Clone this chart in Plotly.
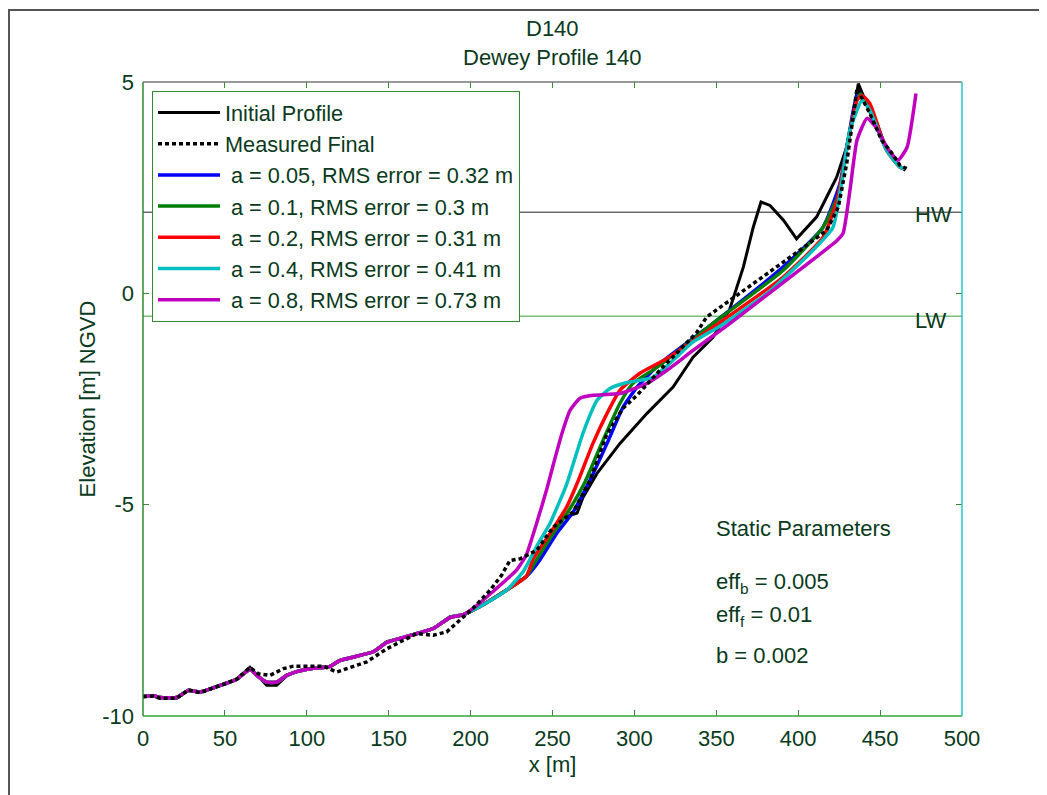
import plotly.graph_objects as go

# ---------------- data ----------------
offshore_x = [0, 6.3, 10.4, 20.6, 27.7, 34.8, 49, 57.2, 65.3, 70.4, 75.5, 81.6, 87.7, 93.8,
              104, 114, 120, 140.6, 148.8, 161, 169, 177.2, 187.4, 195.6, 205.7, 222, 234]
offshore_y = [-9.54, -9.53, -9.58, -9.58, -9.38, -9.45, -9.25, -9.13, -8.85, -9.07, -9.27, -9.27,
              -9.05, -8.95, -8.87, -8.83, -8.69, -8.48, -8.24, -8.12, -8.03, -7.93, -7.65, -7.61,
              -7.41, -7.02, -6.70]
# computed profiles offshore (slightly smoother than the surveyed one)
model_offshore_y = [-9.54, -9.52, -9.56, -9.56, -9.40, -9.43, -9.25, -9.13, -8.90, -9.07, -9.20,
                    -9.20, -9.04, -8.95, -8.87, -8.83, -8.69, -8.48, -8.26, -8.12, -8.03, -7.93,
                    -7.67, -7.60, -7.41, -7.02, -6.70]

initial_x = offshore_x + [248.5, 254.6, 258.7, 265, 268.6, 277.2, 291.2, 307.7, 323.6, 335.8, 348,
                          358, 366.5, 372.6, 377.3, 382.8, 391, 399, 411.3, 417.4, 423.5, 429.6,
                          433.6, 436.7, 445.9, 454, 462.1, 465.5]
initial_y = offshore_y + [-5.84, -5.30, -5.28, -5.20, -4.83, -4.26, -3.55, -2.84, -2.22, -1.51, -1.04,
                          -0.40, 0.62, 1.57, 2.16, 2.08, 1.73, 1.29, 1.81, 2.28, 2.75, 3.46,
                          4.25, 4.96, 4.09, 3.38, 2.99, 2.91]

final_x = [0, 6.3, 10.4, 20.6, 27.7, 34.8, 49, 57.2, 65.3, 70.4, 77.5, 85.7, 91.8, 110, 118.2,
           136.6, 148.8, 167.1, 177.2, 185.4, 201.5, 211.8, 218.9, 224, 230.2, 240.4, 250.5,
           262.7, 273, 283, 293, 301.6, 316.8, 338.2, 344.1, 364.5, 401, 417.4, 424.5, 429.6,
           435.9, 443.8, 451, 456, 462.1, 466.2]
final_y = [-9.54, -9.53, -9.58, -9.58, -9.38, -9.45, -9.25, -9.13, -8.85, -9.0, -9.04, -8.88,
           -8.82, -8.82, -8.96, -8.72, -8.41, -8.05, -8.09, -8.01, -7.45, -7.03, -6.67, -6.32,
           -6.28, -6.08, -5.53, -5.17, -4.42, -3.35, -2.72, -2.41, -1.77, -0.92, -0.56, 0.0,
           1.02, 1.49, 2.04, 3.07, 4.85, 4.25, 3.62, 3.38, 3.03, 2.95]

blue_x = offshore_x + [242.4, 252.5, 262.7, 272.9, 283.3, 293, 301.6, 315.6, 348, 390.7, 415.1,
                       425.5, 430.4, 436.5, 445.9, 454, 462, 465]
blue_y = model_offshore_y + [-6.30, -5.68, -5.17, -4.42, -3.55, -2.70, -2.22, -1.66, -0.71, 0.62,
                             1.56, 2.60, 3.62, 4.73, 4.20, 3.40, 3.00, 2.95]

green_x = offshore_x + [240.3, 250.5, 260.7, 270, 280.8, 291.2, 299.1, 313.8, 348, 390.7, 415.1,
                        425.5, 430.4, 437.7, 445.9, 454, 462, 465]
green_y = model_offshore_y + [-6.30, -5.68, -5.09, -4.45, -3.48, -2.60, -2.13, -1.75, -0.71, 0.54,
                              1.56, 2.44, 3.62, 4.73, 4.22, 3.40, 3.00, 2.95]

red_x = offshore_x + [238.3, 248.5, 258.7, 265, 274.7, 283.3, 291.2, 303.4, 319.9, 348, 390.7,
                      415.1, 423.7, 429.8, 435.9, 439, 443.8, 454, 462, 465]
red_y = model_offshore_y + [-6.27, -5.68, -5.05, -4.50, -3.55, -2.84, -2.29, -1.89, -1.54, -0.80,
                            0.38, 1.32, 2.20, 3.45, 4.57, 4.68, 4.49, 3.38, 2.99, 2.95]

cyan_x = offshore_x[:-1] + [232, 240.3, 248.5, 258.8, 268.6, 277.2, 285.1, 295.5, 311.4, 335.8,
                            350.4, 360.2, 381, 407.2, 421.2, 426.7, 431.6, 439, 443.8, 454, 462, 465]
cyan_y = model_offshore_y[:-1] + [-6.59, -5.99, -5.44, -4.50, -3.31, -2.53, -2.25, -2.11, -1.99,
                                  -1.15, -0.82, -0.57, 0.0, 0.95, 1.56, 2.67, 3.86, 4.57, 4.33,
                                  3.38, 2.99, 2.95]

magenta_x = [0, 6.3, 10.4, 20.6, 27.7, 34.8, 49, 57.2, 65.3, 70.4, 75.5, 81.6, 87.7, 93.8, 104,
             114, 120, 140.6, 148.8, 161, 169, 177.2, 187.4, 195.6, 201.7, 228, 234, 240.3,
             246.4, 250.5, 255.8, 260.7, 266.8, 274.7, 291.2, 307.7, 319.9, 335.8, 358.4, 384.6,
             423.7, 427.4, 431.6, 435.9, 442, 448.1, 454.2, 460.9, 466.4, 471.9]
magenta_y = [-9.54, -9.52, -9.56, -9.56, -9.40, -9.43, -9.25, -9.13, -8.90, -9.07, -9.20, -9.20,
             -9.04, -8.95, -8.87, -8.83, -8.69, -8.48, -8.26, -8.12, -8.03, -7.93, -7.67, -7.60,
             -7.45, -6.55, -6.19, -5.44, -4.65, -4.05, -3.31, -2.77, -2.48, -2.41, -2.37, -2.13,
             -1.82, -1.35, -0.71, 0.07, 1.25, 1.42, 2.44, 3.62, 4.14, 3.90, 3.45, 3.15, 3.45, 4.73]

legend_names = ["Initial Profile", "Measured Final",
                "\u00a0a = 0.05, RMS error = 0.32 m",
                "\u00a0a = 0.1, RMS error = 0.3 m",
                "\u00a0a = 0.2, RMS error = 0.31 m",
                "\u00a0a = 0.4, RMS error = 0.41 m",
                "\u00a0a = 0.8, RMS error = 0.73 m"]

hw_level = 1.92
lw_level = -0.54
x_range = [0, 500]
y_range = [-10, 5]
x_ticks = [0, 50, 100, 150, 200, 250, 300, 350, 400, 450, 500]
y_ticks = [-10, -5, 0, 5]
y_ticktext = ["-10", "-5", "0", "5"]

# ---------------- figure ----------------
TXT = "#0a3a20"
FONT = "Liberation Sans, Arial, sans-serif"
FS = 22
fig = go.Figure()

# water level lines
fig.add_trace(go.Scatter(x=x_range, y=[hw_level, hw_level], mode="lines",
                         line=dict(color="#222222", width=1), showlegend=False, hoverinfo="skip"))
fig.add_trace(go.Scatter(x=x_range, y=[lw_level, lw_level], mode="lines",
                         line=dict(color="#3aa03a", width=1), showlegend=False, hoverinfo="skip"))

series = [
    (initial_x, initial_y, "#000000", 3, "solid", 0, "linear"),
    (blue_x, blue_y, "#0000ff", 3.5, "solid", 2, "spline"),
    (green_x, green_y, "#007f00", 3.5, "solid", 3, "spline"),
    (red_x, red_y, "#ff0000", 3.5, "solid", 4, "spline"),
    (cyan_x, cyan_y, "#00bfbf", 3.5, "solid", 5, "spline"),
    (magenta_x, magenta_y, "#bf00bf", 3.5, "solid", 6, "spline"),
    (final_x, final_y, "#000000", 3.5, "4px,3px", 1, "linear"),
]
for xs, ys, col, w, dash, idx, shp in series:
    ln = dict(color=col, width=w, dash=dash, shape=shp)
    if shp == "spline":
        ln["smoothing"] = 0.5
    fig.add_trace(go.Scatter(x=xs, y=ys, mode="lines", name=legend_names[idx], line=ln,
                             legendrank=idx + 1))

tf = dict(size=FS, color=TXT, family=FONT)
ann = [
    dict(x=0.5, y=1.085, xref="paper", yref="paper", text="D140", showarrow=False,
         yanchor="middle", font=tf),
    dict(x=0.5, y=1.0394, xref="paper", yref="paper", text="Dewey Profile 140", showarrow=False,
         yanchor="middle", font=tf),
    dict(x=470, y=hw_level - 0.05, xref="x", yref="y", text="HW", showarrow=False, xanchor="left",
         yanchor="middle", font=tf),
    dict(x=470, y=lw_level - 0.1, xref="x", yref="y", text="LW", showarrow=False, xanchor="left",
         yanchor="middle", font=tf),
    dict(x=348.6, y=-5.56, xref="x", yref="y", text="Static Parameters", showarrow=False,
         xanchor="left", yanchor="middle", font=tf),
    dict(x=348.6, y=-6.85, xref="x", yref="y", text="eff<sub>b</sub> = 0.005", showarrow=False,
         xanchor="left", yanchor="middle", font=tf),
    dict(x=348.6, y=-7.63, xref="x", yref="y", text="eff<sub>f</sub> = 0.01", showarrow=False,
         xanchor="left", yanchor="middle", font=tf),
    dict(x=348.6, y=-8.56, xref="x", yref="y", text="b = 0.002", showarrow=False,
         xanchor="left", yanchor="middle", font=tf),
]

shapes = [
    # outer window frame
    dict(type="rect", xref="paper", yref="paper", x0=-0.1636, y0=-2, x1=3, y1=1.1136,
         line=dict(color="#555555", width=2), layer="below"),
    # axes box, each side coloured like the reference
    dict(type="line", xref="paper", yref="paper", x0=0, x1=0, y0=0, y1=1,
         line=dict(color="#2e8b2e", width=1.5)),
    dict(type="line", xref="paper", yref="paper", x0=0, x1=1, y0=0, y1=0,
         line=dict(color="#3aa03a", width=1.5)),
    dict(type="line", xref="paper", yref="paper", x0=0, x1=1, y0=1, y1=1,
         line=dict(color="#777777", width=1.5)),
    dict(type="line", xref="paper", yref="paper", x0=1, x1=1, y0=0, y1=1,
         line=dict(color="#22c8c8", width=1.5)),
]

fig.update_layout(
    width=1039, height=787,
    margin=dict(l=135, r=85, t=74, b=79),
    paper_bgcolor="white", plot_bgcolor="white",
    font=dict(family=FONT, size=FS, color=TXT),
    showlegend=True,
    legend=dict(x=0.011, y=0.986, xanchor="left", yanchor="top",
                bgcolor="white", bordercolor="#2e8b2e", borderwidth=1,
                font=dict(size=21.7, color=TXT, family=FONT),
                traceorder="normal", itemwidth=62),
    annotations=ann,
    shapes=shapes,
)
fig.update_xaxes(range=x_range, tickvals=x_ticks, ticks="inside", ticklen=6,
                 tickcolor="#3a8a3a", mirror="ticks", showline=False, showgrid=False,
                 zeroline=False, tickfont=tf, ticklabelstandoff=7,
                 title=dict(text="x [m]", standoff=6, font=tf))
fig.update_yaxes(range=y_range, tickvals=y_ticks, ticktext=y_ticktext, ticks="inside", ticklen=6,
                 tickcolor="#3a8a3a", mirror="ticks", showline=False, showgrid=False,
                 zeroline=False, tickfont=tf, ticklabelstandoff=8,
                 title=dict(text="Elevation [m] NGVD", standoff=0, font=tf))

fig.write_html("out.html")
